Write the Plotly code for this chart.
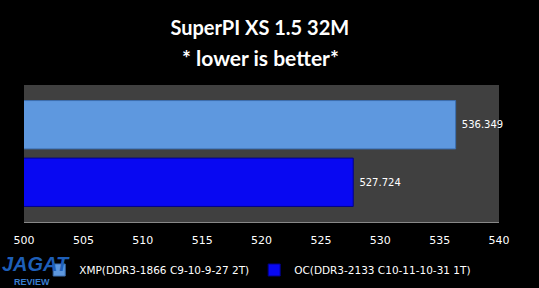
import plotly.graph_objects as go

category = ["SuperPI"]
series_names = ["XMP(DDR3-1866 C9-10-9-27 2T)", "OC(DDR3-2133 C10-11-10-31 1T)"]
series_values = [536.349, 527.724]
series_labels = ["536.349", "527.724"]
series_colors = ["#5E98DF", "#0808F2"]
line_colors = ["#3C6FB0", "#00008A"]
tick_vals = [500, 505, 510, 515, 520, 525, 530, 535, 540]
title_line1 = "SuperPI XS 1.5 32M"
title_line2 = "* lower is better*"

fig = go.Figure()
for name, val, lab, col, lc in zip(series_names, series_values, series_labels, series_colors, line_colors):
    fig.add_trace(go.Bar(
        y=category, x=[val], base=0, name=name, orientation="h",
        marker=dict(color=col, line=dict(color=lc, width=1)),
        text=[lab], texttemplate="\u00a0%{text}", textposition="outside", cliponaxis=False,
        textfont=dict(color="white", size=10, family="DejaVu Sans"),
    ))

PLOT_H = 288 - 85 - 66
fig.update_layout(
    width=539, height=288,
    paper_bgcolor="black", plot_bgcolor="#404040",
    margin=dict(l=24, r=40, t=85, b=66, autoexpand=False),
    barmode="group", bargap=0.16, bargroupgap=0.16,
    title=dict(text=title_line1, x=0.482, xanchor="center",
               y=1 - 28 / 288, yanchor="middle",
               font=dict(family="Lato", size=20, color="white", weight="bold")),
    xaxis=dict(range=[500, 540], tickvals=tick_vals, showgrid=False, zeroline=False,
               showline=True, linecolor="#888888", linewidth=1, ticks="",
               ticklabelstandoff=8,
               tickfont=dict(color="white", size=11, family="DejaVu Sans")),
    yaxis=dict(autorange="reversed", showticklabels=False, showgrid=False, zeroline=False),
    showlegend=True,
    legend=dict(orientation="h", x=0.032, xanchor="left", yref="container",
                y=1 - 270 / 288, yanchor="middle",
                font=dict(color="white", size=10.5, family="DejaVu Sans"),
                bgcolor="rgba(0,0,0,0)", itemwidth=30),
    annotations=[
        dict(text="<b>" + title_line2 + "</b>", xref="paper", yref="paper", x=(260 - 24) / 475,
             y=(222 - 58) / PLOT_H, xanchor="center", yanchor="middle", showarrow=False,
             font=dict(family="Lato", size=21, color="white")),
        dict(text="<b><i>JAGAT</i></b>", xref="paper", yref="paper", x=-0.05, y=-(264 - 222) / PLOT_H,
             xanchor="left", yanchor="middle", showarrow=False,
             font=dict(family="Liberation Sans Narrow, Liberation Sans", size=20, color="#1E5FB8")),
        dict(text="<b>REVIEW</b>", xref="paper", yref="paper", x=-0.025, y=-(282 - 222) / PLOT_H,
             xanchor="left", yanchor="middle", showarrow=False,
             font=dict(family="Liberation Sans Narrow, Liberation Sans", size=9, color="#3A7FD0")),
    ],
)

fig.write_html("out.html")
